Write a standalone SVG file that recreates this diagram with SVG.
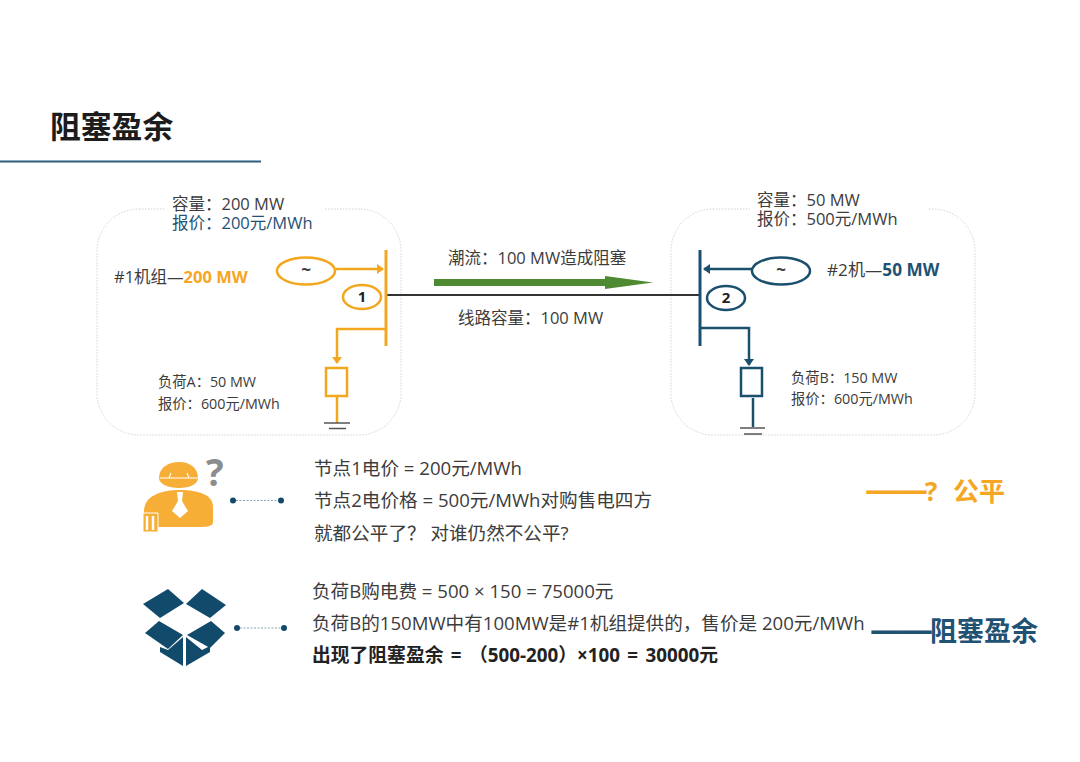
<svg xmlns="http://www.w3.org/2000/svg" width="1080" height="762" viewBox="0 0 1080 762">
<style>
text{font-family:"Open Sans","Noto Sans CJK SC",sans-serif;fill:#3c3c3c;font-size:16.500px}
.s{font-size:14.300px}
.m{font-size:18.600px}
.o{fill:#f5a623}
.b{fill:#1f5273}
.bold{font-weight:700}
.zone{fill:#fff;stroke:#d0d4d4;stroke-width:1;stroke-dasharray:1.5 1.5}
.ol{stroke:#f2a71f;stroke-width:2.500;fill:none}
.bl{stroke:#1a4f6e;stroke-width:2.500;fill:none}
.gap{fill:#fff;stroke:none}
.num{font-size:15px;font-weight:700;fill:#222;text-anchor:middle}
.til{font-size:17px;font-weight:700;fill:#444;text-anchor:middle}
.dot{fill:#134a6b}
.dl{stroke:#8fa5b3;stroke-width:1;stroke-dasharray:2 1.5}
.box{fill:#124a6c}
.dash{font-size:33px;letter-spacing:-3px}
</style>
<defs>
<marker id="ao" markerWidth="8" markerHeight="10" refX="6" refY="5" orient="auto" markerUnits="userSpaceOnUse"><path d="M0 0L7 5L0 10Z" fill="#f2a71f"/></marker>
<marker id="ab" markerWidth="8" markerHeight="10" refX="6" refY="5" orient="auto" markerUnits="userSpaceOnUse"><path d="M0 0L7 5L0 10Z" fill="#1a4f6e"/></marker>
</defs>
<g id="title">
<text x="50" y="138" style="font-size:30.800px;font-weight:700;fill:#1c1c1c">阻塞盈余</text>
<path d="M0 161.500H261" stroke="#2c5f7c" stroke-width="2"/>
</g>
<g id="zone-1">
<rect class="zone" x="97" y="209" width="304" height="226" rx="42"/>
<rect class="gap" x="164" y="195" width="160" height="30"/>
<text x="172" y="210">容量：200 MW</text>
<text x="172" y="229" class="b">报价：200元/MWh</text>
</g>
<g id="zone-2">
<rect class="zone" x="671" y="209" width="304" height="226" rx="42"/>
<rect class="gap" x="750" y="195" width="178" height="30"/>
<text x="757" y="206">容量：50 MW</text>
<text x="757" y="225">报价：500元/MWh</text>
</g>
<g id="connectors">
<path d="M387 295H700" stroke="#333" stroke-width="2" fill="none"/>
<path d="M434 279H605V276L653 282.500L605 289V286H434Z" fill="#4f8a33"/>
<path class="ol" d="M336 269H383" marker-end="url(#ao)"/>
<path class="ol" d="M386 329H337V363" marker-end="url(#ao)"/>
<path class="bl" d="M752 269H704" marker-end="url(#ab)"/>
<path class="bl" d="M701 328H749V365" marker-end="url(#ab)"/>
</g>
<g id="bus-1"><path d="M386 250V346" stroke="#f2a71f" stroke-width="3" fill="none"/></g>
<g id="bus-2"><path d="M700 250V346" stroke="#1a4f6e" stroke-width="3" fill="none"/></g>
<g id="gen-1">
<ellipse class="ol" cx="306" cy="271" rx="29" ry="13.500"/>
<text x="306" y="276" class="til">~</text>
<text x="114" y="283">#1机组—<tspan class="o bold">200 MW</tspan></text>
</g>
<g id="gen-2">
<ellipse class="bl" cx="781" cy="271" rx="29" ry="13.500"/>
<text x="781" y="276" class="til">~</text>
<text x="827" y="276" style="font-size:17.200px">#2机—<tspan class="b bold">50 MW</tspan></text>
</g>
<g id="node-1">
<ellipse class="ol" cx="362" cy="297" rx="19" ry="12"/>
<text x="362" y="302" class="num">1</text>
</g>
<g id="node-2">
<ellipse class="bl" cx="726" cy="298" rx="19" ry="12"/>
<text x="726" y="303" class="num">2</text>
</g>
<g id="load-a">
<rect class="ol" x="326" y="368" width="21" height="28"/>
<path class="ol" d="M337 396V423"/>
<path d="M324 423H350M329 428.500H346" stroke="#555" stroke-width="1.300" fill="none"/>
<text x="158" y="387" class="s">负荷A：50 MW</text>
<text x="158" y="409" class="s">报价：600元/MWh</text>
</g>
<g id="load-b">
<rect class="bl" x="741" y="368" width="21" height="28"/>
<path class="bl" d="M753 398V427"/>
<path d="M740 428H765M744 434H762" stroke="#555" stroke-width="1.300" fill="none"/>
<text x="791" y="383" class="s">负荷B：150 MW</text>
<text x="791" y="404" class="s">报价：600元/MWh</text>
</g>
<g id="flow-labels">
<text x="448" y="264">潮流：100 MW造成阻塞</text>
<text x="458" y="324">线路容量：100 MW</text>
</g>
<g id="worker">
<path d="M159 478C159 468 168 462 179 462C190 462 198 468 198 478C198 484 190 488 179 488C168 488 159 484 159 478Z" fill="#f7ae37"/>
<path d="M160 478H198" stroke="#fff" stroke-width="1.200"/>
<path d="M169 478L171 473M189 478L187 473" stroke="#fff" stroke-width="1.200"/>
<path d="M144 510C145 496 160 491 176 490H184C200 491 213 495 213 507V522C213 527 205 527 195 527H158L144 526Z" fill="#f7ae37"/>
<path d="M143 513H158V532H143Z" fill="#f7ae37" stroke="#fff" stroke-width="1"/>
<path d="M147 516V530M153 516V530" stroke="#fff" stroke-width="2.500"/>
<path d="M177 492H183L182 501L188 511L180 518L172 511L178 501Z" fill="#fff"/>
<text x="206" y="486" style="font-size:37px;font-weight:700;fill:#8c8c8c">?</text>
<circle class="dot" cx="233" cy="500.500" r="3"/><circle class="dot" cx="281" cy="500.500" r="3"/>
<path class="dl" d="M236 500.500H278"/>
</g>
<g id="text-1">
<text x="314" y="475" class="m">节点1电价 = 200元/MWh</text>
<text x="314" y="507" class="m">节点2电价格 = 500元/MWh对购售电四方</text>
<text x="314" y="540" class="m">就都公平了？ 对谁仍然不公平?</text>
<text y="501" style="font-size:26px;font-weight:700" class="o"><tspan x="865" class="dash">——</tspan><tspan x="925">?</tspan><tspan x="953">公平</tspan></text>
</g>
<g id="box">
<path class="box" d="M143 604L168 589L184 603L160 618Z"/>
<path class="box" d="M186 604L202 589L226 605L210 618Z"/>
<path class="box" d="M145 633L159 621L183 635L168 649Z"/>
<path class="box" d="M187 635L211 621L225 633L210 648Z"/>
<path class="box" d="M183 637V666L160 652V647L168 650Z"/>
<path class="box" d="M186 637V666L210 652V646L202 650Z"/>
<circle class="dot" cx="237" cy="628" r="3"/><circle class="dot" cx="284" cy="628" r="3"/>
<path class="dl" d="M240 628H281"/>
</g>
<g id="text-2">
<text x="312" y="598" class="m">负荷B购电费 = 500 × 150 = 75000元</text>
<text x="312" y="630" class="m">负荷B的150MW中有100MW是#1机组提供的，售价是 200元/MWh</text>
<text x="312" y="662" class="m bold" style="fill:#222;font-size:18.800px;word-spacing:2.500px">出现了阻塞盈余 = （500-200）×100 = 30000元</text>
<text y="641" style="font-size:27px;font-weight:700" class="b"><tspan x="870" class="dash">——</tspan><tspan x="930">阻塞盈余</tspan></text>
</g>
</svg>
